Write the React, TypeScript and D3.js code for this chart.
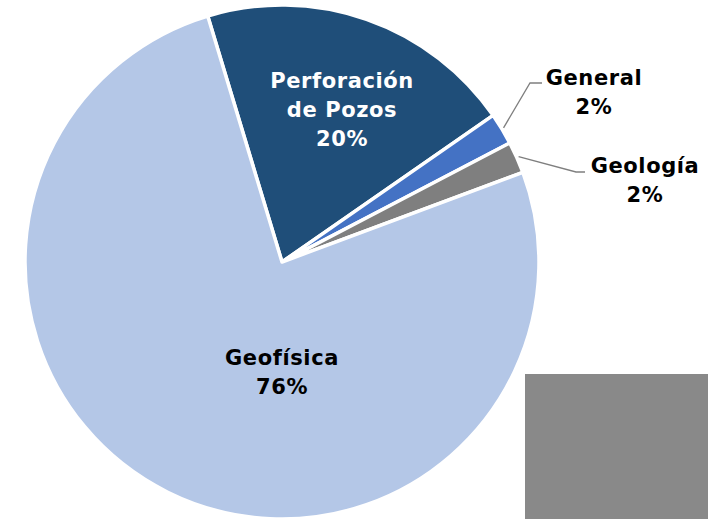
import React from "react";
import * as d3 from "d3";

const categories = ["Perforación de Pozos", "General", "Geología", "Geofísica"];
const values = [20, 2, 2, 76];
const percentLabels = ["20%", "2%", "2%", "76%"];
const colors = ["#1F4E79", "#4472C4", "#7F7F7F", "#B4C7E7"];

const W = 708;
const H = 519;
const cx = 282;
const cy = 262;
const R = 257;
const startDeg = -16.8;

const FONT = "'DejaVu Sans', sans-serif";

export default function App() {
  const pie = d3
    .pie<number>()
    .sort(null)
    .value((d) => d)
    .startAngle((startDeg * Math.PI) / 180)
    .endAngle((startDeg * Math.PI) / 180 + 2 * Math.PI);
  const arcs = pie(values);
  const arc = d3.arc<d3.PieArcDatum<number>>().innerRadius(0).outerRadius(R);

  const polar = (a: number, r: number) => [cx + r * Math.sin(a), cy - r * Math.cos(a)];

  const inside = [
    { lines: ["Perforación", "de Pozos", percentLabels[0]], x: 342, y: 88, color: "#FFFFFF" },
    { lines: ["Geofísica", percentLabels[3]], x: 282, y: 365, color: "#000000" },
  ];
  const outside = [
    { i: 1, lines: ["General", percentLabels[1]], x: 594, y: 85, elbow: [530, 83], end: [542, 83] },
    { i: 2, lines: ["Geología", percentLabels[2]], x: 645, y: 173, elbow: [576, 172], end: [585, 172] },
  ];

  return (
    <svg width={W} height={H} style={{ position: "absolute", left: 0, top: 0 }}>
      <rect x={0} y={0} width={W} height={H} fill="#FFFFFF" />
      <g transform={`translate(${cx},${cy})`}>
        {arcs.map((a, i) => (
          <path key={i} d={arc(a) || ""} fill={colors[i]} stroke="#FFFFFF" strokeWidth={3.5} strokeLinejoin="round" />
        ))}
      </g>
      {outside.map((o) => {
        const a = arcs[o.i];
        const mid = (a.startAngle + a.endAngle) / 2;
        const p = polar(mid, R + 2);
        return (
          <polyline
            key={o.i}
            points={`${p[0]},${p[1]} ${o.elbow[0]},${o.elbow[1]} ${o.end[0]},${o.end[1]}`}
            fill="none"
            stroke="#7F7F7F"
            strokeWidth={1.3}
          />
        );
      })}
      {inside.map((t, k) => (
        <text key={k} textAnchor="middle" fontFamily={FONT} fontWeight="bold" fontSize={21} fill={t.color} letterSpacing={0.6}>
          {t.lines.map((l, j) => (
            <tspan key={j} x={t.x} y={t.y + j * 29}>
              {l}
            </tspan>
          ))}
        </text>
      ))}
      {outside.map((t, k) => (
        <text key={k} textAnchor="middle" fontFamily={FONT} fontWeight="bold" fontSize={21} fill="#000000" letterSpacing={0.6}>
          {t.lines.map((l, j) => (
            <tspan key={j} x={t.x} y={t.y + j * 28.5}>
              {l}
            </tspan>
          ))}
        </text>
      ))}
      <rect x={525} y={374} width={W - 525} height={H - 374} fill="#898989" />
    </svg>
  );
}
